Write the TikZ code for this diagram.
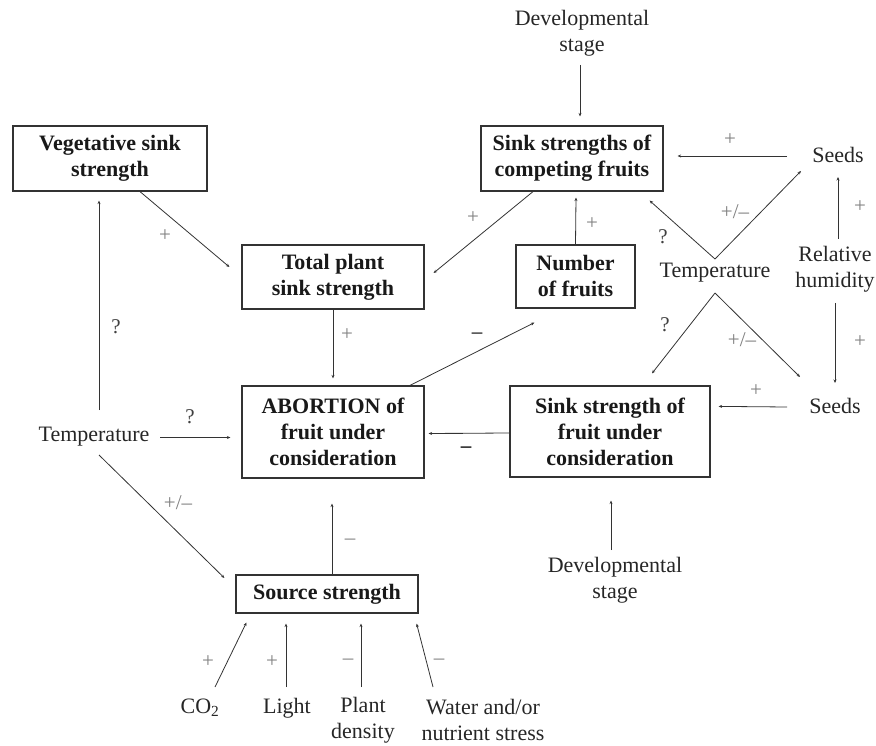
\documentclass[tikz,border=0pt]{standalone}
\usepackage{fontspec}
\setmainfont{Liberation Serif}
\usetikzlibrary{calc,arrows.meta}
\begin{document}
\begin{tikzpicture}[x=1pt,y=-1pt,
  box/.style={draw=black!80,line width=1.2pt,inner sep=0pt,align=center,
    font=\fontsize{22}{26}\selectfont\bfseries,text=black!90},
  txt/.style={inner sep=1pt,align=center,font=\fontsize{22}{26}\selectfont,text=black!85},
  sgn/.style={inner sep=0pt,font=\fontsize{21}{24}\selectfont,text=black!50},
  qm/.style={inner sep=0pt,font=\fontsize{21}{24}\selectfont,text=black!75},
  conn/.style={draw=black!80,line width=0.8pt,-{Stealth[length=3.5pt,width=3pt]}},
  plain/.style={draw=black!80,line width=0.8pt}]
\useasboundingbox (0,0) rectangle (876,746);

% boxes
\node[box,minimum width=194pt,minimum height=65pt] (veg) at (110,158.5) {Vegetative sink\\strength};
\node[box,minimum width=182pt,minimum height=64pt] (total) at (333,277) {Total plant\\sink strength};
\node[box,minimum width=182pt,minimum height=65pt] (comp) at (572,158.5) {Sink strengths of\\competing fruits};
\node[box,minimum width=119pt,minimum height=63pt] (num) at (575.5,276.5) {Number\\of fruits};
\node[box,minimum width=182pt,minimum height=92pt] (abort) at (333,432) {ABORTION of\\fruit under\\consideration};
\node[box,minimum width=200pt,minimum height=91pt] (sinkc) at (610,431.5) {Sink strength of\\fruit under\\consideration};
\node[box,minimum width=182pt,minimum height=38pt] (source) at (327,594) {Source strength};

% plain text nodes
\node[txt] (devT) at (582,33) {Developmental\\stage};
\node[txt] (seedsT) at (838,155) {Seeds};
\node[txt] (rh) at (835,269) {Relative\\humidity};
\node[txt] (tempR) at (715,273) {Temperature};
\node[txt] (seedsL) at (835,406) {Seeds};
\node[txt] (devB) at (615,580) {Developmental\\stage};
\node[txt] (tempL) at (94,437) {Temperature};
\node[txt] (co2) at (200,708) {CO\textsubscript{2}};
\node[txt] (light) at (287,708) {Light};
\node[txt] (density) at (363,720) {Plant\\density};
\node[txt] (water) at (483,720) {Water and/or\\nutrient stress};

% connectors
\draw[conn] ($(veg.south)+(30,0)$) -- ($(total.west)+(-12,-10)$);
\draw[conn] ($(tempL.center)+(5,-27)$) -- ($(veg.south)+(-11,9)$);
\draw[conn] ($(tempL.center)+(66,0.5)$) -- ($(abort.west)+(-11,5.5)$);
\draw[conn] ($(tempL.center)+(5,18)$) -- ($(source.west)+(-11,-16)$);
\draw[conn] (total.south) -- ($(abort.north)+(0,-7)$);
\draw[conn] ($(comp.south)+(-39,0)$) -- ($(total.east)+(9,-4)$);
\draw[conn] (num.north) -- ($(comp.south)+(4,6)$);
\draw[conn] ($(abort.north)+(77,0)$) -- ($(num.south west)+(19,14)$);
\draw[conn] ($(sinkc.west)+(0,1.5)$) -- ($(abort.east)+(4,1.5)$);
\draw[plain,line width=1.6pt] ($(abort.east)+(8,1.5)$) -- ($(abort.east)+(38,1.5)$);
\draw[conn] ($(seedsL.center)+(-48,1)$) -- ($(sinkc.north east)+(8,21)$);
\draw[conn] ($(tempR.center)+(0,20)$) -- ($(sinkc.north)+(42,-12)$);
\draw[conn] ($(tempR.center)+(0,20)$) -- ($(seedsL.center)+(-35,-29)$);
\draw[conn] ($(tempR.center)+(0,-14)$) -- ($(comp.south east)+(-14,9)$);
\draw[conn] ($(tempR.center)+(0,-14)$) -- ($(seedsT.center)+(-37,16)$);
\draw[conn] ($(seedsT.center)+(-51,1)$) -- ($(comp.east)+(14,-2.5)$);
\draw[conn] ($(rh.center)+(3,-30)$) -- ($(seedsT.center)+(0,22)$);
\draw[conn] ($(rh.center)+(0,34)$) -- ($(seedsL.center)+(0,-23)$);
\draw[conn] ($(devT.center)+(-2,32)$) -- ($(comp.north)+(8,-9)$);
\draw[conn] ($(devB.center)+(-4,-30)$) -- ($(sinkc.south)+(1,23)$);
\draw[conn] ($(source.north)+(5,0)$) -- ($(abort.south)+(-1,25)$);
\draw[conn] ($(co2.center)+(15,-21)$) -- ($(source.south west)+(11,9)$);
\draw[conn] ($(light.center)+(-1,-21)$) -- ($(source.south)+(-41,10)$);
\draw[conn] ($(density.center)+(-2,-33)$) -- ($(source.south)+(34,10)$);
\draw[conn] ($(water.center)+(-50,-33)$) -- ($(source.south east)+(-2,10)$);

% signs
\node[sgn] (la) at (165,236) {+};
\node[qm] (lb) at (116,327) {?};
\node[qm] (lc) at (190,417) {?};
\node[sgn] (ld) at (178,503) {+/–};
\node[sgn] (le) at (347,335) {+};
\node[sgn] (lf) at (473,218) {+};
\node[sgn] (lg) at (592,224) {+};
\node[qm,font=\fontsize{21}{24}\selectfont\bfseries] (lh) at (477,336) {–};
\node[qm,text=black!90,font=\fontsize{21}{24}\selectfont\bfseries] (li) at (466,450) {–};
\node[sgn] (lj) at (756,391) {+};
\node[qm] (lk) at (665,325) {?};
\node[sgn] (ll) at (742,340) {+/–};
\node[qm] (lm) at (663,237) {?};
\node[sgn] (ln) at (735,212) {+/–};
\node[sgn] (lo) at (730,140) {+};
\node[sgn] (lp) at (860,207) {+};
\node[sgn] (lq) at (860,342) {+};
\node[sgn] (lt) at (350,542) {–};
\node[sgn] (lu) at (208,662) {+};
\node[sgn] (lv) at (272,662) {+};
\node[sgn] (lw) at (348,662) {–};
\node[sgn] (lx) at (439,662) {–};
\end{tikzpicture}
\end{document}
